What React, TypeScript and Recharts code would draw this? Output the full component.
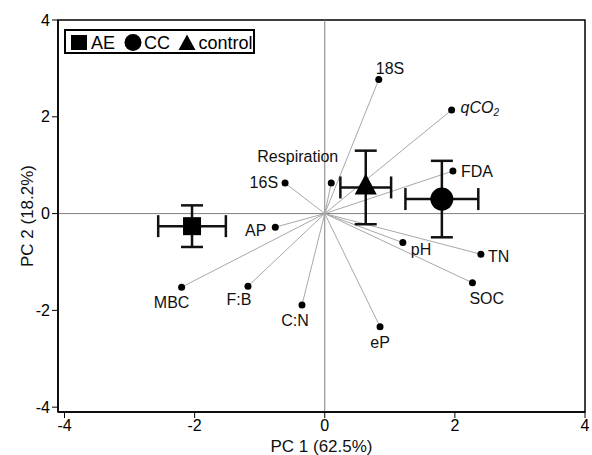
import {
  ErrorBar,
  Legend,
  ReferenceArea,
  ReferenceLine,
  Scatter,
  ScatterChart,
  XAxis,
  YAxis,
} from 'recharts'

// PCA loadings (variable vectors)
const loadingNames = ['18S', 'qCO2', 'FDA', 'Respiration', '16S', 'AP', 'MBC', 'F:B', 'C:N', 'pH', 'TN', 'SOC', 'eP']
const loadingPC1 = [0.83, 1.95, 1.97, 0.1, -0.61, -0.76, -2.2, -1.18, -0.35, 1.2, 2.4, 2.27, 0.85]
const loadingPC2 = [2.77, 2.14, 0.88, 0.63, 0.63, -0.28, -1.52, -1.5, -1.89, -0.6, -0.84, -1.43, -2.34]

// treatment group scores (mean ± error)
const groupNames = ['AE', 'CC', 'control']
const groupPC1 = [-2.04, 1.8, 0.63]
const groupPC2 = [-0.26, 0.3, 0.54]
const groupErrPC1 = [0.52, 0.56, 0.39]
const groupErrPC2 = [0.43, 0.79, 0.76]

const axisTicks = [-4, -2, 0, 2, 4]

const markerFor: Record<string, 'square' | 'circle' | 'triangle'> = {
  AE: 'square',
  CC: 'circle',
  control: 'triangle',
}

const labelPlacement: Record<string, { dx: number; dy: number; anchor: 'start' | 'middle' | 'end' }> = {
  '18S': { dx: -3, dy: -6, anchor: 'start' },
  qCO2: { dx: 9, dy: 3, anchor: 'start' },
  FDA: { dx: 8, dy: 6, anchor: 'start' },
  Respiration: { dx: 7, dy: -21, anchor: 'end' },
  '16S': { dx: -7, dy: 5, anchor: 'end' },
  AP: { dx: -9, dy: 9, anchor: 'end' },
  MBC: { dx: -10, dy: 21, anchor: 'middle' },
  'F:B': { dx: -9, dy: 19, anchor: 'middle' },
  'C:N': { dx: -7, dy: 21, anchor: 'middle' },
  pH: { dx: 8, dy: 12, anchor: 'start' },
  TN: { dx: 7, dy: 8, anchor: 'start' },
  SOC: { dx: -3, dy: 21, anchor: 'start' },
  eP: { dx: 0, dy: 21, anchor: 'middle' },
}

const FONT = '"Liberation Sans", Arial, Helvetica, sans-serif'

const loadings = loadingNames.map((name, i) => ({ name, x: loadingPC1[i], y: loadingPC2[i] }))
const groups = groupNames.map((name, i) => ({
  name,
  x: groupPC1[i],
  y: groupPC2[i],
  ex: groupErrPC1[i],
  ey: groupErrPC2[i],
}))

function LoadingPoint(props: any) {
  const { cx, cy, payload } = props
  const p = labelPlacement[payload.name]
  return (
    <g>
      <circle cx={cx} cy={cy} r={3.5} fill="#000" />
      <text x={cx + p.dx} y={cy + p.dy} textAnchor={p.anchor} fontSize={16} fontFamily={FONT} fill="#111">
        {payload.name === 'qCO2' ? (
          <>
            <tspan fontStyle="italic">qCO</tspan>
            <tspan fontStyle="italic" fontSize={10} dy={3}>
              2
            </tspan>
          </>
        ) : (
          payload.name
        )}
      </text>
    </g>
  )
}

function GroupMarker(props: any) {
  const { cx, cy, payload } = props
  const kind = markerFor[payload.name]
  if (kind === 'square') return <rect x={cx - 9} y={cy - 9} width={18} height={18} fill="#000" />
  if (kind === 'circle') return <circle cx={cx} cy={cy} r={11.5} fill="#000" />
  return <polygon points={`${cx},${cy - 14} ${cx - 11},${cy + 7} ${cx + 11},${cy + 7}`} fill="#000" />
}

function GroupLegend() {
  return (
    <svg width={191} height={25} style={{ display: 'block' }}>
      <rect x={1} y={1} width={189} height={23} fill="#fff" stroke="#000" strokeWidth={2} />
      <rect x={7} y={6} width={16} height={15} fill="#000" />
      <text x={27} y={20} fontSize={18} fontFamily={FONT} fill="#000">
        AE
      </text>
      <circle cx={69} cy={13.5} r={8.5} fill="#000" />
      <text x={80} y={20} fontSize={18} fontFamily={FONT} fill="#000">
        CC
      </text>
      <polygon points="123,5.5 114.5,21 131.5,21" fill="#000" />
      <text x={134.5} y={20} fontSize={18} fontFamily={FONT} fill="#000">
        control
      </text>
    </svg>
  )
}

export default function App() {
  // chart covers the whole 592x455 window
  return (
    <div style={{ width: 592, height: 455, fontFamily: FONT }}>
      <style>{'body{margin:0}'}</style>
      <ScatterChart width={592} height={455} margin={{ top: 20, right: 7, bottom: 0, left: 8 }}>
        <XAxis
          type="number"
          dataKey="x"
          domain={[-4.1, 4]}
          ticks={axisTicks}
          allowDataOverflow
          height={43}
          axisLine={{ stroke: '#000', strokeWidth: 1.5 }}
          tickLine={{ stroke: '#000' }}
          tick={{ fill: '#000', fontSize: 16, fontFamily: FONT }}
          label={{ value: 'PC 1 (62.5%)', position: 'insideBottom', offset: 3, fontSize: 17, fill: '#111', fontFamily: FONT }}
        />
        <YAxis
          type="number"
          dataKey="y"
          domain={[-4.1, 4]}
          ticks={axisTicks}
          allowDataOverflow
          width={50}
          axisLine={{ stroke: '#000', strokeWidth: 1.5 }}
          tickLine={{ stroke: '#000' }}
          tick={{ fill: '#000', fontSize: 16, fontFamily: FONT }}
          label={{
            value: 'PC 2 (18.2%)',
            angle: -90,
            position: 'insideLeft',
            offset: 19,
            fontSize: 17,
            fill: '#111',
            fontFamily: FONT,
            style: { textAnchor: 'middle' },
          }}
        />
        <ReferenceArea x1={-4.1} x2={4} y1={-4.1} y2={4} fill="none" stroke="#000" strokeWidth={1.5} />
        <ReferenceLine x={0} stroke="#808080" />
        <ReferenceLine y={0} stroke="#808080" />
        {loadings.map((d) => (
          <ReferenceLine
            key={d.name}
            segment={[
              { x: 0, y: 0 },
              { x: d.x, y: d.y },
            ]}
            stroke="#a8a8a8"
          />
        ))}
        <Scatter data={loadings} shape={<LoadingPoint />} isAnimationActive={false} />
        {groups.map((g) => (
          <Scatter key={g.name} name={g.name} data={[g]} shape={<GroupMarker />} isAnimationActive={false}>
            <ErrorBar dataKey="ex" direction="x" width={11} stroke="#111" strokeWidth={2.5} />
            <ErrorBar dataKey="ey" direction="y" width={11} stroke="#111" strokeWidth={2.5} />
          </Scatter>
        ))}
        <Legend
          layout="vertical"
          align="center"
          verticalAlign="middle"
          wrapperStyle={{ top: 29, left: 64, width: 191, height: 25 }}
          content={() => <GroupLegend />}
        />
      </ScatterChart>
    </div>
  )
}
